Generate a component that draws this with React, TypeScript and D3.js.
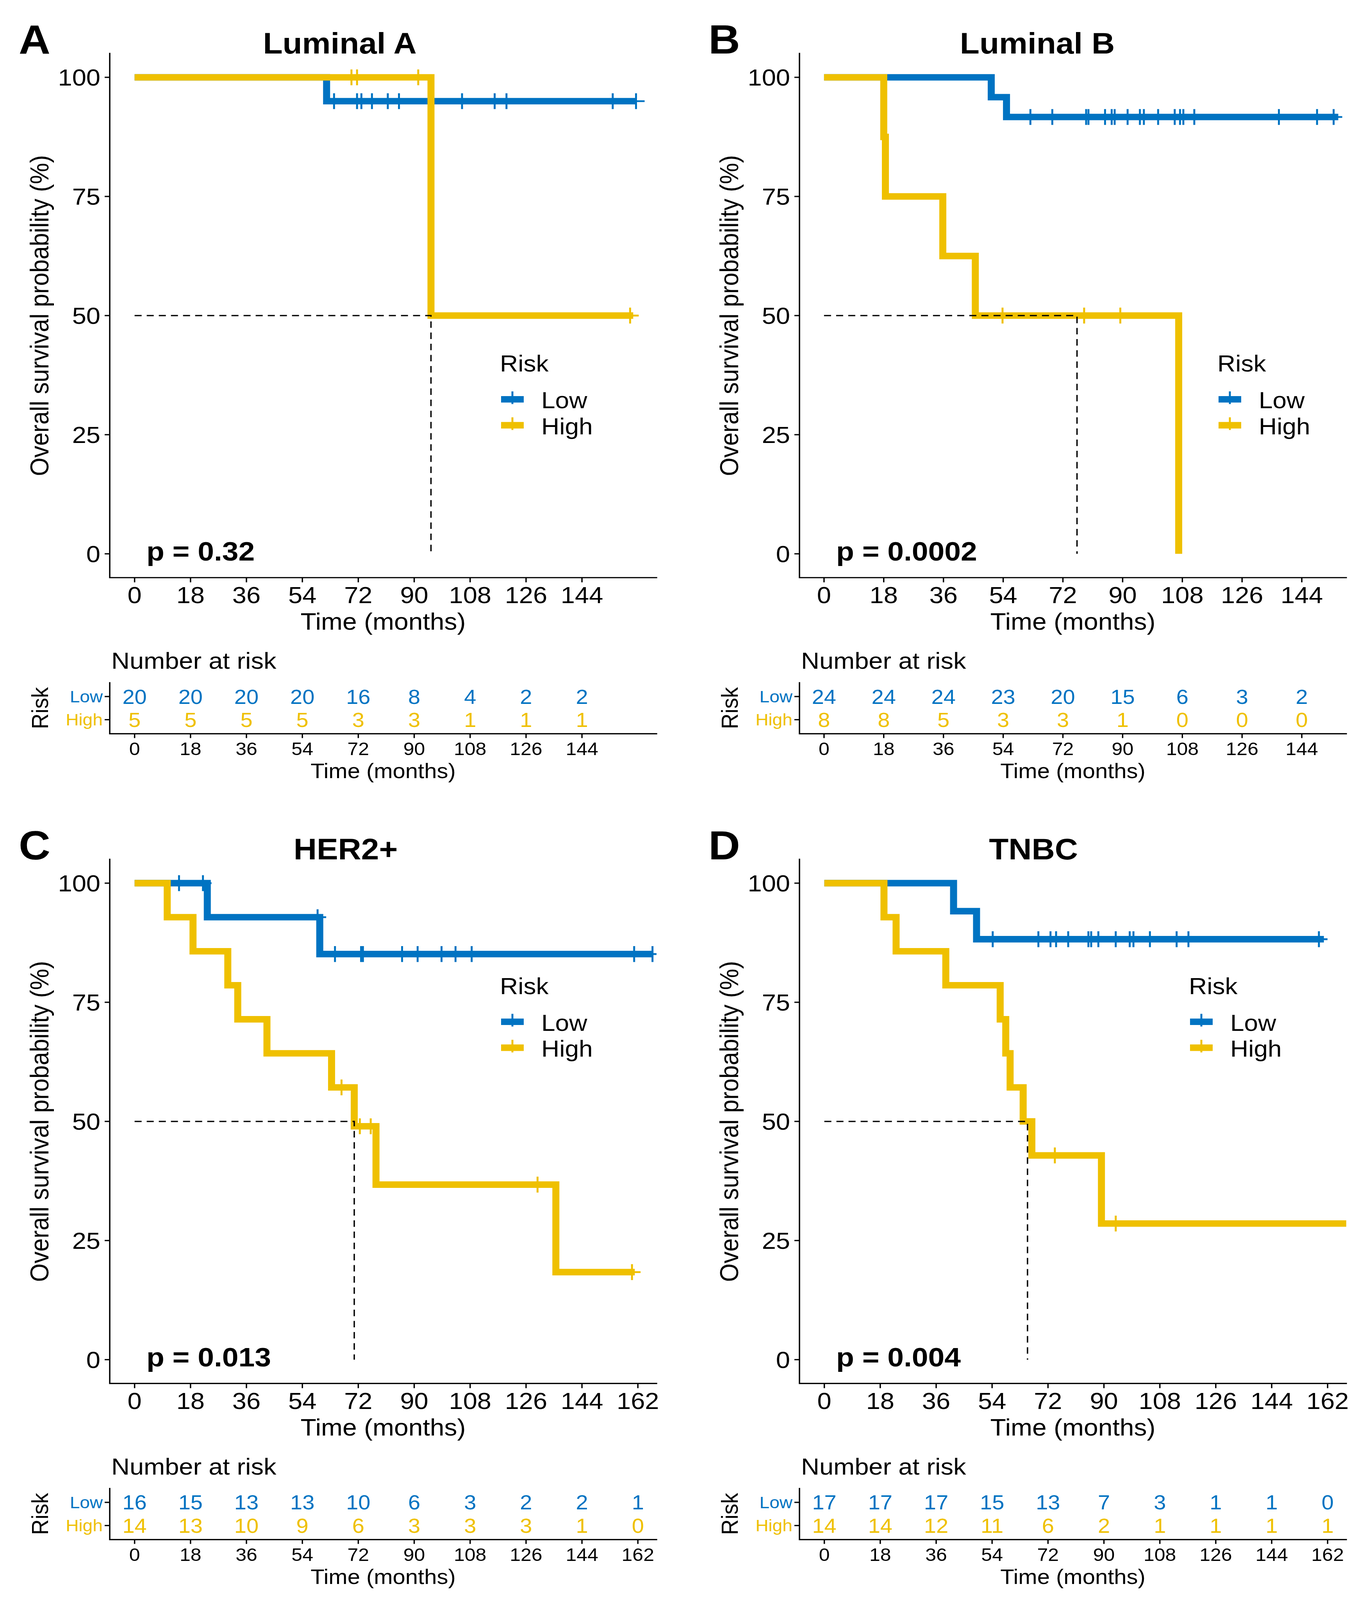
import React from "react";
import * as d3 from "d3";

const BLUE = "#0073C2";
const YELLOW = "#EFC000";
const FONT = "'Liberation Sans', Arial, sans-serif";

const groups = ["Low", "High"];
const yTicks = [0, 25, 50, 75, 100];
const breaks144 = [0, 18, 36, 54, 72, 90, 108, 126, 144];
const breaks162 = [0, 18, 36, 54, 72, 90, 108, 126, 144, 162];

// ---- Luminal A ----
const lumALowTimes = [0, 61.8];
const lumALowSurv = [100, 95];
const lumALowEnd = 161.5;
const lumALowCensor = [64.2, 71.6, 73.0, 76.4, 81.5, 85.1, 95.4, 105.4, 115.9, 119.7, 153.9, 161.4];
const lumAHighTimes = [0, 95.4];
const lumAHighSurv = [100, 50];
const lumAHighEnd = 160.5;
const lumAHighCensor = [69.8, 71.6, 91.3, 159.5];
const lumAMedian = 95.4;
const lumARiskLow = [20, 20, 20, 20, 16, 8, 4, 2, 2];
const lumARiskHigh = [5, 5, 5, 5, 3, 3, 1, 1, 1];

// ---- Luminal B ----
const lumBLowTimes = [0, 50.4, 55.0];
const lumBLowSurv = [100, 95.83, 91.67];
const lumBLowEnd = 155;
const lumBLowCensor = [62.2, 68.8, 79.0, 79.7, 84.7, 86.7, 87.6, 91.5, 95.2, 96.4, 100.7, 105.7, 107.3, 108.3, 111.6, 137.1, 148.6, 153.6];
const lumBHighTimes = [0, 18.0, 18.5, 35.8, 45.6, 106.9];
const lumBHighSurv = [100, 87.5, 75, 62.5, 50, 0];
const lumBHighEnd = 106.9;
const lumBHighCensor = [53.8, 78.4, 89.3];
const lumBMedian = 76.25;
const lumBRiskLow = [24, 24, 24, 23, 20, 15, 6, 3, 2];
const lumBRiskHigh = [8, 8, 5, 3, 3, 1, 0, 0, 0];

// ---- HER2+ ----
const her2LowTimes = [0, 23.4, 59.6];
const her2LowSurv = [100, 92.86, 85.12];
const her2LowEnd = 167;
const her2LowCensor = [14.3, 22.0, 58.9, 64.5, 72.9, 73.5, 86.1, 91.1, 98.8, 103.3, 108.5, 160.8, 166.7];
const her2HighTimes = [0, 10.5, 18.8, 30.0, 33.2, 42.6, 63.4, 70.7, 77.7, 135.6];
const her2HighSurv = [100, 92.86, 85.71, 78.57, 71.43, 64.29, 57.14, 48.98, 36.73, 18.37];
const her2HighEnd = 161;
const her2HighCensor = [66.6, 72.5, 76.0, 129.7, 160.1];
const her2Median = 70.7;
const her2RiskLow = [16, 15, 13, 13, 10, 6, 3, 2, 2, 1];
const her2RiskHigh = [14, 13, 10, 9, 6, 3, 3, 3, 1, 0];

// ---- TNBC ----
const tnbcLowTimes = [0, 41.6, 49.0];
const tnbcLowSurv = [100, 94.12, 88.24];
const tnbcLowEnd = 160.8;
const tnbcLowCensor = [54.2, 68.9, 72.8, 74.6, 78.5, 85.0, 85.9, 88.2, 93.8, 98.3, 99.5, 104.8, 113.4, 117.2, 159.2];
const tnbcHighTimes = [0, 19.2, 23.1, 39.1, 56.6, 58.4, 59.8, 64.0, 66.8, 89.2];
const tnbcHighSurv = [100, 92.86, 85.71, 78.57, 71.43, 64.29, 57.14, 50.0, 42.86, 28.57];
const tnbcHighEnd = 172;
const tnbcHighCensor = [74.2, 93.8];
const tnbcMedian = 65.4;
const tnbcRiskLow = [17, 17, 17, 15, 13, 7, 3, 1, 1, 0];
const tnbcRiskHigh = [14, 14, 12, 11, 6, 2, 1, 1, 1, 1];

type Curve = { times: number[]; surv: number[]; end: number; censor: number[] };

const panels = [
  {
    id: "A", title: "Luminal A", pval: "p = 0.32", breaks: breaks144, xDomain: [-8, 168],
    low: { times: lumALowTimes, surv: lumALowSurv, end: lumALowEnd, censor: lumALowCensor },
    high: { times: lumAHighTimes, surv: lumAHighSurv, end: lumAHighEnd, censor: lumAHighCensor },
    median: lumAMedian, riskLow: lumARiskLow, riskHigh: lumARiskHigh,
    left: 281, bottom: 1603.3, letterX: 48, titleX: 870, legendDx: 999, legendDy: -572,
  },
  {
    id: "B", title: "Luminal B", pval: "p = 0.0002", breaks: breaks144, xDomain: [-7.4, 157.4],
    low: { times: lumBLowTimes, surv: lumBLowSurv, end: lumBLowEnd, censor: lumBLowCensor },
    high: { times: lumBHighTimes, surv: lumBHighSurv, end: lumBHighEnd, censor: lumBHighCensor },
    median: lumBMedian, riskLow: lumBRiskLow, riskHigh: lumBRiskHigh,
    left: 2047, bottom: 1603.3, letterX: 1814, titleX: 2656, legendDx: 1070, legendDy: -572,
  },
  {
    id: "C", title: "HER2+", pval: "p = 0.013", breaks: breaks162, xDomain: [-8, 168],
    low: { times: her2LowTimes, surv: her2LowSurv, end: her2LowEnd, censor: her2LowCensor },
    high: { times: her2HighTimes, surv: her2HighSurv, end: her2HighEnd, censor: her2HighCensor },
    median: her2Median, riskLow: her2RiskLow, riskHigh: her2RiskHigh,
    left: 281, bottom: 3840, letterX: 48, titleX: 885, legendDx: 999, legendDy: -1081,
  },
  {
    id: "D", title: "TNBC", pval: "p = 0.004", breaks: breaks162, xDomain: [-8, 168],
    low: { times: tnbcLowTimes, surv: tnbcLowSurv, end: tnbcLowEnd, censor: tnbcLowCensor },
    high: { times: tnbcHighTimes, surv: tnbcHighSurv, end: tnbcHighEnd, censor: tnbcHighCensor },
    median: tnbcMedian, riskLow: tnbcRiskLow, riskHigh: tnbcRiskHigh,
    left: 2047, bottom: 3840, letterX: 1814, titleX: 2646, legendDx: 997, legendDy: -1081,
  },
];

const W = 1400;
const H = 1454.8;
const LINE_W = 18;
const AXIS_W = 3.5;
const CROSS = 22;

function survAt(c: Curve, t: number) {
  let s = 100;
  c.times.forEach((tt, i) => {
    if (tt <= t) s = c.surv[i];
  });
  return s;
}

function Panel({ p }: { p: (typeof panels)[number] }) {
  const x = d3.scaleLinear().domain(p.xDomain).range([p.left, p.left + W]);
  const y = d3.scaleLinear().domain([-5, 105]).range([p.bottom, p.bottom - H]);
  const step = d3
    .line<[number, number]>()
    .x((d) => x(d[0]))
    .y((d) => y(d[1]))
    .curve(d3.curveStepAfter);
  const pts = (c: Curve): [number, number][] => [
    ...c.times.map((t, i) => [t, c.surv[i]] as [number, number]),
    [c.end, c.surv[c.surv.length - 1]],
  ];
  const curves: [Curve, string][] = [
    [p.low, BLUE],
    [p.high, YELLOW],
  ];
  const top = p.bottom - H;
  const midX = p.left + W / 2;
  const clipId = `clip-${p.id}`;

  // risk table geometry
  const tTop = p.bottom + 291.7;
  const tAxis = p.bottom + 433.3;
  const rowY = [p.bottom + 330, p.bottom + 394.3];
  const risks = [p.riskLow, p.riskHigh];
  const colors = [BLUE, YELLOW];

  const lgX = p.left + p.legendDx;
  const lgY = p.bottom + p.legendDy;

  return (
    <g fontFamily={FONT}>
      <defs>
        <clipPath id={clipId}>
          <rect x={p.left} y={top} width={W} height={H} />
        </clipPath>
      </defs>
      <text x={p.letterX} y={top} fontSize={112} fontWeight="bold">
        {p.id}
      </text>
      <text x={p.titleX} y={top} fontSize={82} fontWeight="bold" textAnchor="middle">
        {p.title}
      </text>

      {/* curves */}
      <g clipPath={`url(#${clipId})`}>
        {curves.map(([c, col], i) => (
          <g key={i}>
            <path d={step(pts(c)) || ""} fill="none" stroke={col} strokeWidth={LINE_W} />
            {c.censor.map((t, j) => (
              <path
                key={j}
                d={`M${x(t) - CROSS},${y(survAt(c, t))}H${x(t) + CROSS}M${x(t)},${y(survAt(c, t)) - CROSS}V${y(survAt(c, t)) + CROSS}`}
                stroke={col}
                strokeWidth={5}
              />
            ))}
          </g>
        ))}
        <path
          d={`M${x(0)},${y(50)}H${x(p.median)}V${y(0)}`}
          fill="none"
          stroke="#000"
          strokeWidth={3.5}
          strokeDasharray="18,13"
        />
      </g>

      {/* axes */}
      <path
        d={`M${p.left},${top}V${p.bottom}H${p.left + W}`}
        fill="none"
        stroke="#000"
        strokeWidth={AXIS_W}
        strokeLinecap="square"
      />
      {yTicks.map((v) => (
        <g key={v}>
          <line x1={p.left - 13} x2={p.left} y1={y(v)} y2={y(v)} stroke="#000" strokeWidth={AXIS_W} />
          <text x={p.left - 24} y={y(v) + 23} fontSize={65} textAnchor="end">
            {v}
          </text>
        </g>
      ))}
      {p.breaks.map((b) => (
        <g key={b}>
          <line x1={x(b)} x2={x(b)} y1={p.bottom} y2={p.bottom + 13} stroke="#000" strokeWidth={AXIS_W} />
          <text x={x(b)} y={p.bottom + 71} fontSize={65} textAnchor="middle">
            {b}
          </text>
        </g>
      ))}
      <text x={midX} y={p.bottom + 144} fontSize={66} textAnchor="middle">
        Time (months)
      </text>
      <text
        transform={`translate(${p.left - 157},${(top + p.bottom) / 2}) rotate(-90)`}
        fontSize={66}
        textAnchor="middle"
      >
        Overall survival probability (%)
      </text>
      <text x={p.left + 94} y={y(0) + 19} fontSize={75} fontWeight="bold">
        {p.pval}
      </text>

      {/* legend */}
      <text x={lgX} y={lgY} fontSize={64}>
        Risk
      </text>
      {groups.map((g, i) => {
        const ky = lgY + 77 + i * 72;
        const kx = lgX + 32;
        return (
          <g key={g}>
            <line x1={lgX + 3} x2={lgX + 61} y1={ky} y2={ky} stroke={colors[i]} strokeWidth={LINE_W} />
            <line x1={kx} x2={kx} y1={ky - CROSS} y2={ky + CROSS * 0.6} stroke={colors[i]} strokeWidth={5} />
            <text x={lgX + 106} y={ky + 25} fontSize={64}>
              {g}
            </text>
          </g>
        );
      })}

      {/* risk table */}
      <text x={p.left + 4} y={p.bottom + 253.4} fontSize={65}>
        Number at risk
      </text>
      <text
        transform={`translate(${p.left - 158},${(rowY[0] + rowY[1]) / 2}) rotate(-90)`}
        fontSize={60}
        textAnchor="middle"
      >
        Risk
      </text>
      <path
        d={`M${p.left},${tTop}V${tAxis}H${p.left + W}`}
        fill="none"
        stroke="#000"
        strokeWidth={AXIS_W}
        strokeLinecap="square"
      />
      {groups.map((g, i) => (
        <g key={g}>
          <line x1={p.left - 13} x2={p.left} y1={rowY[i]} y2={rowY[i]} stroke="#000" strokeWidth={AXIS_W} />
          <text x={p.left - 18} y={rowY[i] + 16} fontSize={46} textAnchor="end" fill={colors[i]}>
            {g}
          </text>
          {risks[i].map((n, j) => (
            <text
              key={j}
              x={x(p.breaks[j])}
              y={rowY[i] + 20}
              fontSize={56}
              textAnchor="middle"
              fill={colors[i]}
            >
              {n}
            </text>
          ))}
        </g>
      ))}
      {p.breaks.map((b) => (
        <g key={b}>
          <line x1={x(b)} x2={x(b)} y1={tAxis} y2={tAxis + 12} stroke="#000" strokeWidth={AXIS_W} />
          <text x={x(b)} y={p.bottom + 493} fontSize={50} textAnchor="middle">
            {b}
          </text>
        </g>
      ))}
      <text x={midX} y={p.bottom + 557} fontSize={58} textAnchor="middle">
        Time (months)
      </text>
    </g>
  );
}

export default function App() {
  return (
    <svg
      viewBox="0 0 3495 4441"
      preserveAspectRatio="none"
      style={{ position: "fixed", left: 0, top: 0, width: "100vw", height: "100vh", background: "#fff" }}
    >
      <rect width={3495} height={4441} fill="#fff" />
      {panels.map((p) => (
        <Panel key={p.id} p={p} />
      ))}
    </svg>
  );
}
